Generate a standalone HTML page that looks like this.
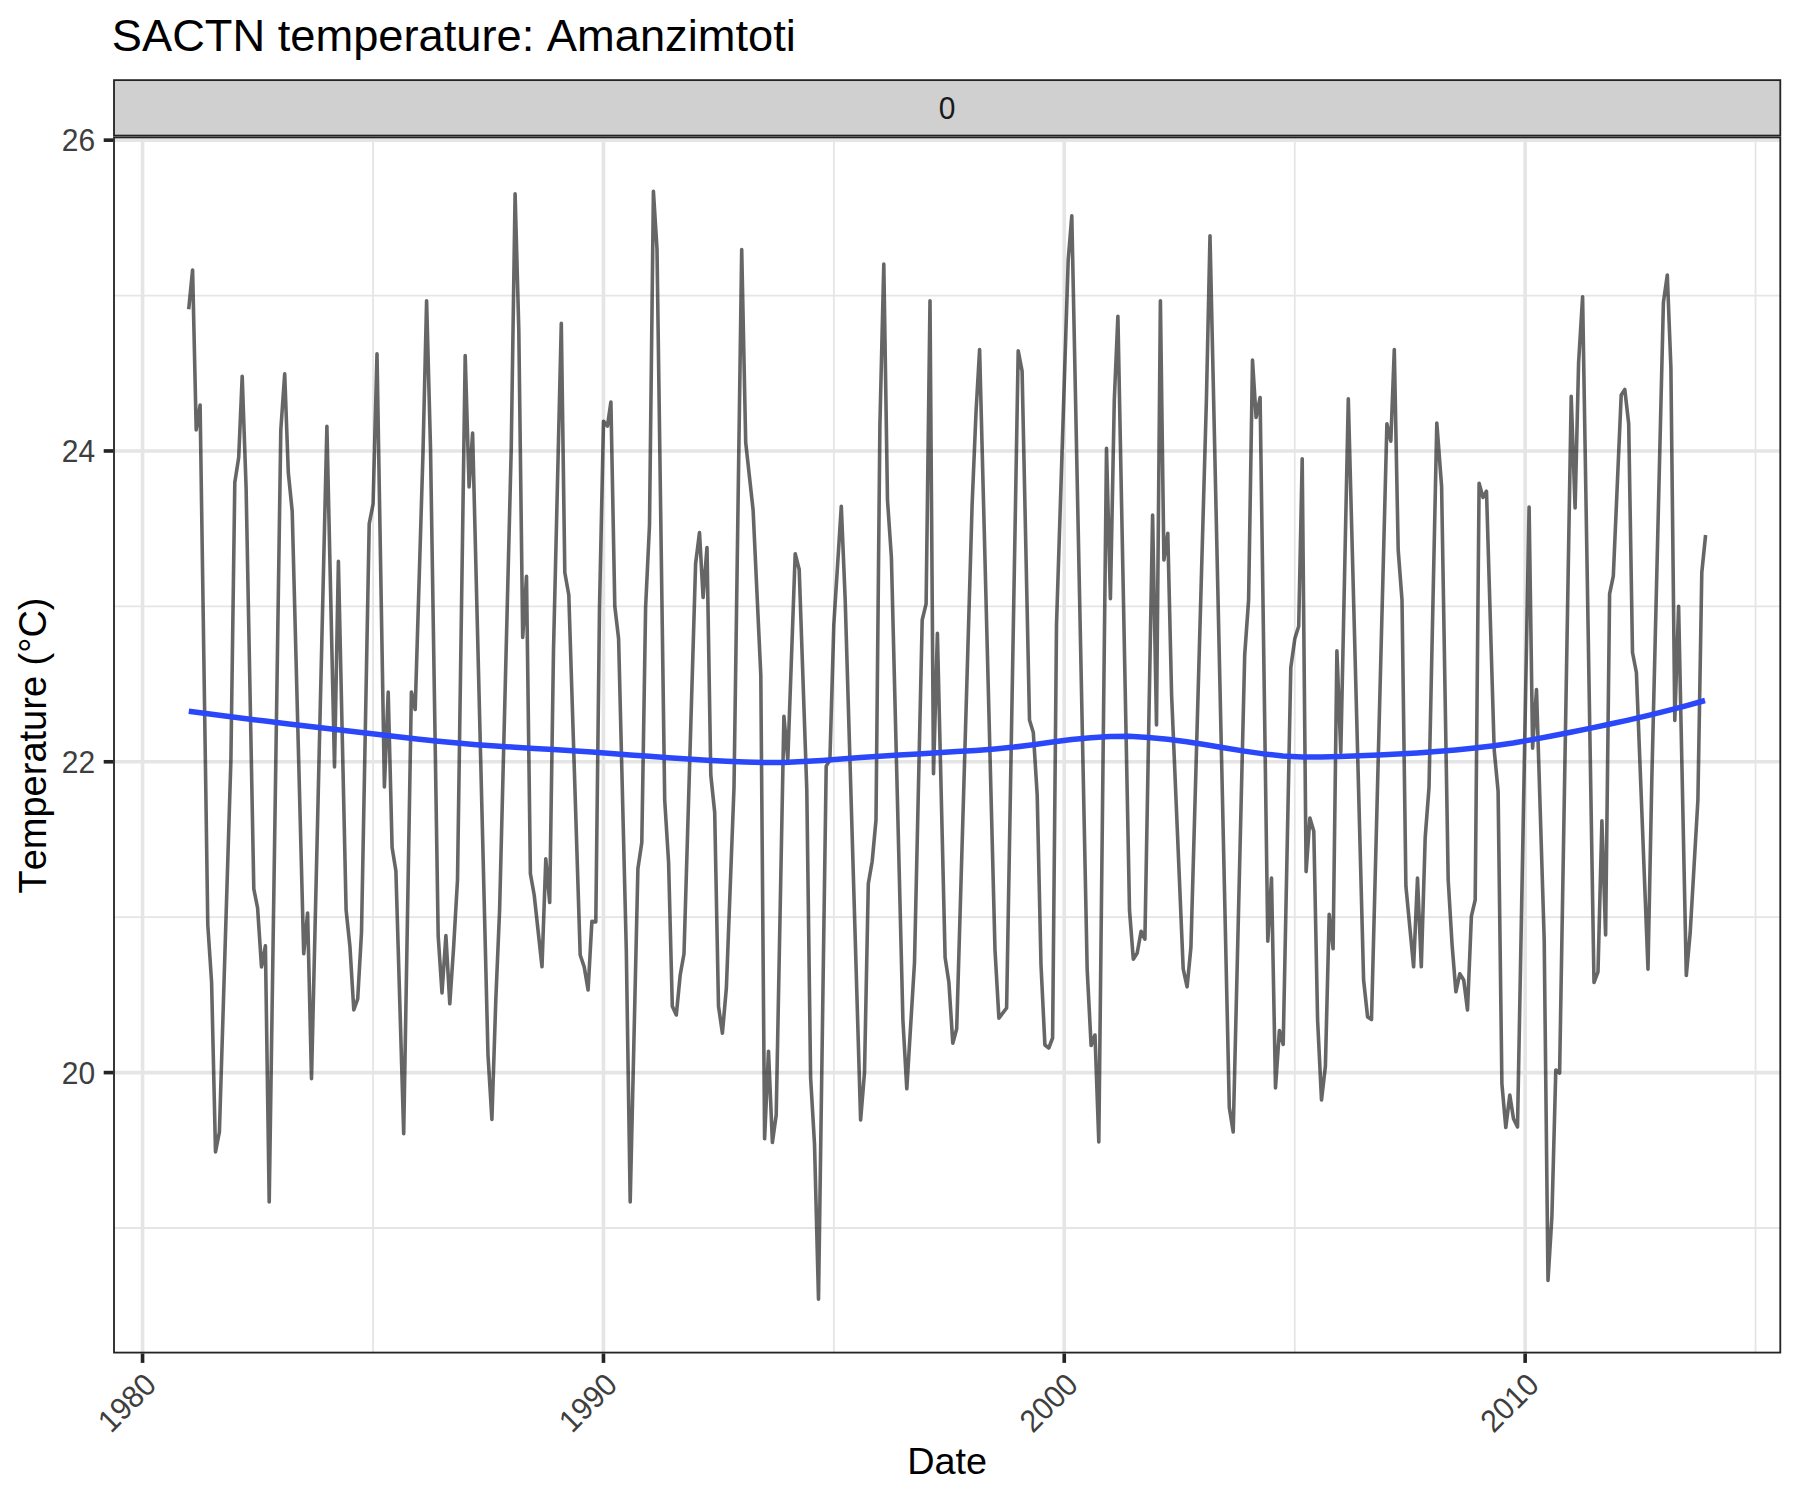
<!DOCTYPE html>
<html><head><meta charset="utf-8"><title>SACTN temperature: Amanzimtoti</title>
<style>html,body{margin:0;padding:0;background:#fff}svg{display:block}text{font-family:"Liberation Sans",Arial,Helvetica,sans-serif;font-kerning:none}</style></head><body>
<svg width="1800" height="1500" viewBox="0 0 1800 1500">
<rect width="1800" height="1500" fill="#fff"/>
<defs><clipPath id="pc"><rect x="113.1" y="136.5" width="1668.10" height="1217.00"/></clipPath><clipPath id="sc"><rect x="113.1" y="79.2" width="1668.10" height="57.30"/></clipPath></defs>
<g clip-path="url(#pc)">
<g stroke="#E5E5E5" stroke-width="1.8" fill="none">
<line x1="113.1" x2="1781.2" y1="295.56" y2="295.56"/>
<line x1="113.1" x2="1781.2" y1="606.38" y2="606.38"/>
<line x1="113.1" x2="1781.2" y1="917.19" y2="917.19"/>
<line x1="113.1" x2="1781.2" y1="1228.01" y2="1228.01"/>
<line x1="373.07" x2="373.07" y1="136.5" y2="1353.5"/>
<line x1="833.85" x2="833.85" y1="136.5" y2="1353.5"/>
<line x1="1294.76" x2="1294.76" y1="136.5" y2="1353.5"/>
<line x1="1755.54" x2="1755.54" y1="136.5" y2="1353.5"/>
</g>
<g stroke="#E5E5E5" stroke-width="3.6" fill="none">
<line x1="113.1" x2="1781.2" y1="140.15" y2="140.15"/>
<line x1="113.1" x2="1781.2" y1="450.97" y2="450.97"/>
<line x1="113.1" x2="1781.2" y1="761.78" y2="761.78"/>
<line x1="113.1" x2="1781.2" y1="1072.60" y2="1072.60"/>
<line x1="142.55" x2="142.55" y1="136.5" y2="1353.5"/>
<line x1="603.46" x2="603.46" y1="136.5" y2="1353.5"/>
<line x1="1064.24" x2="1064.24" y1="136.5" y2="1353.5"/>
<line x1="1525.15" x2="1525.15" y1="136.5" y2="1353.5"/>
</g>
<polyline points="188.7,309.2 192.6,270.0 196.2,430.0 200.1,405.0 207.8,925.0 211.6,982.5 215.5,1152.0 219.4,1132.0 230.9,760.0 234.8,482.5 238.7,457.5 242.2,376.2 246.1,487.5 253.8,888.8 257.6,908.0 261.5,967.0 265.4,945.8 269.2,1202.0 280.8,430.0 284.7,373.8 288.3,472.5 292.2,511.2 303.7,953.8 307.6,913.0 311.5,1078.8 326.9,426.2 334.5,767.0 338.4,561.2 346.1,910.0 349.9,946.2 353.8,1010.0 357.7,998.8 361.5,932.5 369.2,523.8 373.1,503.8 377.0,353.8 384.4,787.0 388.2,692.0 392.1,847.5 395.9,871.0 403.7,1133.8 411.4,692.0 415.2,709.5 423.0,452.5 426.6,300.8 430.5,447.5 438.2,936.2 442.0,993.0 445.9,935.5 449.8,1003.8 453.6,947.5 457.5,880.0 465.2,355.5 469.1,487.0 472.6,433.0 488.0,1055.0 491.9,1119.5 495.8,1000.0 499.6,910.0 511.2,450.0 515.1,193.8 518.8,330.0 522.7,637.5 526.5,576.2 530.4,873.8 534.2,895.0 542.0,966.8 545.8,858.8 549.7,902.5 553.5,650.0 561.3,323.2 564.8,572.5 568.8,595.0 580.2,955.0 584.2,966.9 588.1,990.0 591.9,921.2 595.8,922.0 599.5,607.5 603.5,421.2 607.4,426.2 610.9,402.0 614.8,606.2 618.6,638.8 626.3,950.0 630.2,1202.0 637.9,868.8 641.8,842.5 645.6,607.5 649.5,525.0 653.4,191.2 657.0,248.8 664.7,800.0 668.6,862.5 672.3,1006.2 676.3,1015.0 680.2,975.0 684.0,953.8 695.6,563.8 699.5,532.5 703.1,597.5 707.0,547.5 710.8,775.0 714.7,812.5 718.5,1006.2 722.4,1033.2 726.4,987.5 734.0,787.5 741.7,249.5 745.7,442.5 753.1,510.0 760.8,675.0 764.6,1138.8 768.5,1051.2 772.4,1142.5 776.2,1115.0 783.9,716.2 787.8,760.0 795.2,553.8 799.2,569.5 806.8,790.0 810.6,1077.5 814.5,1143.8 818.5,1299.2 826.2,766.2 829.9,760.0 833.8,625.0 841.3,506.2 845.2,600.0 860.6,1120.0 864.5,1072.5 868.3,883.8 872.2,861.2 876.0,820.0 879.9,425.0 883.8,264.0 887.5,500.0 891.4,557.5 902.9,1020.0 906.8,1088.8 914.5,962.5 922.2,620.0 926.1,603.8 930.0,300.8 933.5,773.8 937.4,633.2 945.1,957.5 948.9,982.5 952.8,1043.2 956.7,1028.8 972.1,505.0 976.0,412.5 979.6,349.5 995.0,950.0 998.9,1018.2 1006.6,1008.0 1018.2,350.8 1022.1,371.2 1029.5,720.0 1033.3,732.5 1037.2,795.0 1041.0,965.0 1044.9,1045.0 1048.8,1048.0 1052.6,1038.0 1056.5,625.0 1068.2,260.0 1071.8,215.8 1087.2,970.0 1091.1,1045.5 1095.0,1035.0 1098.8,1142.0 1106.5,448.2 1110.4,598.8 1114.3,400.0 1117.9,316.2 1129.5,910.0 1133.3,959.2 1137.2,953.0 1141.1,931.2 1144.9,939.2 1152.6,515.0 1156.5,725.0 1160.4,300.8 1163.9,560.0 1167.8,533.2 1171.6,695.0 1183.2,968.8 1187.1,986.8 1190.9,947.5 1206.4,400.0 1210.0,235.8 1229.3,1107.5 1233.2,1132.0 1244.7,655.0 1248.6,600.0 1252.5,360.0 1256.1,417.5 1260.1,397.5 1267.8,941.2 1271.5,878.0 1275.5,1088.0 1279.4,1030.5 1283.2,1044.5 1290.8,667.5 1294.8,638.8 1298.7,626.2 1302.2,458.8 1306.1,871.6 1309.9,818.0 1313.8,831.2 1317.6,1020.0 1321.5,1100.0 1325.4,1066.2 1329.2,914.2 1333.1,948.8 1336.9,650.8 1340.8,752.5 1348.3,398.8 1363.6,980.0 1367.6,1017.0 1371.5,1019.5 1386.9,423.8 1390.8,441.2 1394.3,349.5 1398.2,550.0 1402.0,600.0 1405.9,886.2 1413.6,966.8 1417.5,878.0 1421.3,966.8 1425.2,837.5 1429.0,787.5 1436.8,423.0 1441.6,486.5 1448.2,880.0 1452.1,945.0 1455.9,991.8 1459.8,973.8 1463.7,980.0 1467.5,1010.0 1471.4,916.2 1475.2,900.0 1479.1,483.2 1483.0,497.5 1486.5,491.2 1494.2,750.0 1498.1,791.2 1501.9,1083.8 1505.8,1127.5 1509.8,1095.0 1513.5,1118.8 1517.5,1127.0 1529.1,507.0 1532.6,748.2 1536.5,689.5 1544.2,940.0 1548.0,1280.5 1551.9,1216.7 1555.8,1070.0 1559.6,1073.2 1571.2,396.2 1575.1,508.0 1578.6,362.5 1582.6,296.8 1594.0,982.5 1598.0,971.8 1601.9,820.8 1605.6,935.0 1609.6,593.8 1613.3,576.2 1621.2,395.0 1624.8,389.5 1628.7,423.8 1632.5,652.5 1636.4,672.5 1648.0,969.2 1651.8,780.0 1663.4,302.5 1667.3,275.0 1670.9,367.5 1674.8,720.5 1678.6,606.2 1686.3,975.5 1690.2,932.5 1697.9,800.0 1701.8,572.5 1705.6,535.0" fill="none" stroke="#000" stroke-opacity="0.6" stroke-width="3.6" stroke-linejoin="round" stroke-linecap="butt"/>
<polyline points="188.8,711.2 207.9,713.8 227.1,716.3 246.3,718.7 265.5,721.1 284.7,723.4 303.9,725.7 323.1,727.9 342.3,730.2 361.5,732.4 380.7,734.7 399.9,737.0 419.1,739.2 438.3,741.2 457.5,743.1 476.6,744.7 495.8,746.0 515.0,747.2 534.2,748.4 553.4,749.5 572.6,750.7 591.8,752.0 611.0,753.4 630.2,754.9 649.4,756.3 668.6,757.7 687.8,759.1 707.0,760.3 726.2,761.3 745.3,762.1 764.5,762.5 783.7,762.4 802.9,761.6 822.1,760.4 841.3,759.0 860.5,757.6 879.7,756.3 898.9,755.0 918.1,753.9 937.3,752.7 956.5,751.6 975.7,750.4 994.9,748.9 1014.1,747.1 1033.2,744.7 1052.4,742.1 1071.6,739.6 1090.8,737.7 1110.0,736.5 1129.2,736.3 1148.4,737.4 1167.6,739.2 1186.8,741.7 1206.0,744.7 1225.2,748.0 1244.4,751.1 1263.6,753.9 1282.8,755.9 1301.9,756.9 1321.1,756.9 1340.3,756.4 1359.5,755.7 1378.7,754.9 1397.9,754.1 1417.1,753.0 1436.3,751.6 1455.5,750.0 1474.7,748.1 1493.9,745.8 1513.1,743.0 1532.3,739.6 1551.5,736.0 1570.6,732.2 1589.8,728.4 1609.0,724.3 1628.2,720.1 1647.4,715.6 1666.6,710.9 1685.8,705.9 1705.0,700.5" fill="none" stroke="#2A47FA" stroke-width="5.5" stroke-linejoin="round" stroke-linecap="butt"/>
<rect x="113.1" y="136.5" width="1668.10" height="1217.00" fill="none" stroke="#242424" stroke-width="3.64"/>
</g>
<g clip-path="url(#sc)">
<rect x="113.1" y="79.2" width="1668.10" height="57.30" fill="#D0D0D0" stroke="#242424" stroke-width="3.64"/>
</g>
<text transform="translate(947.2,119.2) scale(1,1.045)" font-size="30" text-anchor="middle" fill="#1A1A1A">0</text>
<g stroke="#242424" stroke-width="3.64">
<line x1="103.70" x2="113.1" y1="140.15" y2="140.15"/>
<line x1="103.70" x2="113.1" y1="450.97" y2="450.97"/>
<line x1="103.70" x2="113.1" y1="761.78" y2="761.78"/>
<line x1="103.70" x2="113.1" y1="1072.60" y2="1072.60"/>
<line x1="142.55" x2="142.55" y1="1353.5" y2="1362.90"/>
<line x1="603.46" x2="603.46" y1="1353.5" y2="1362.90"/>
<line x1="1064.24" x2="1064.24" y1="1353.5" y2="1362.90"/>
<line x1="1525.15" x2="1525.15" y1="1353.5" y2="1362.90"/>
</g>
<g font-size="30" fill="#3E3E3E" text-anchor="end">
<text transform="translate(95.2,151.45) scale(1,1.045)">26</text>
<text transform="translate(95.2,462.27) scale(1,1.045)">24</text>
<text transform="translate(95.2,773.08) scale(1,1.045)">22</text>
<text transform="translate(95.2,1083.90) scale(1,1.045)">20</text>
<text transform="translate(158.15,1386.70) rotate(-45) scale(1,1.045)">1980</text>
<text transform="translate(619.06,1386.70) rotate(-45) scale(1,1.045)">1990</text>
<text transform="translate(1079.84,1386.70) rotate(-45) scale(1,1.045)">2000</text>
<text transform="translate(1540.75,1386.70) rotate(-45) scale(1,1.045)">2010</text>
</g>
<text x="111.8" y="50.9" font-size="45.25" fill="#000">SACTN temperature: Amanzimtoti</text>
<text x="947.2" y="1474.2" font-size="37.8" text-anchor="middle" fill="#000">Date</text>
<text transform="translate(45.5,745.5) rotate(-90)" font-size="38" text-anchor="middle" fill="#000">Temperature (°C)</text>
</svg></body></html>
